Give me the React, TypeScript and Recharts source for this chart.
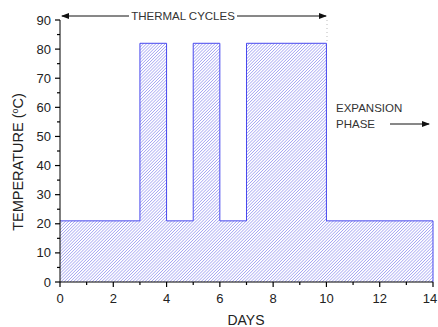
import { AreaChart, Area, XAxis, YAxis, ReferenceLine } from 'recharts';

const days = [0, 3, 4, 5, 6, 7, 10, 14];
const temps = [21, 82, 21, 82, 21, 82, 21, 21];
const xTicks = [0, 1, 2, 3, 4, 5, 6, 7, 8, 9, 10, 11, 12, 13, 14];
const yTicks = [0, 5, 10, 15, 20, 25, 30, 35, 40, 45, 50, 55, 60, 65, 70, 75, 80, 85, 90];

const data = days.map((d, i) => ({ day: d, temp: temps[i] }));
const lastDay = days[days.length - 1];
const lastTemp = temps[temps.length - 1];

const FONT = '"Liberation Sans", Arial, sans-serif';
const BLUE = '#4848ee';

function YTick({ y, payload }: any) {
  const v = payload.value;
  const major = v % 10 === 0;
  return (
    <g>
      <line x1={60 - (major ? 5 : 3)} x2={60} y1={y} y2={y} stroke="#000" strokeWidth={1.2} />
      {major && (
        <text x={51} y={y} dy={4.5} textAnchor="end" fontSize={13} fill="#222" fontFamily={FONT}>
          {v}
        </text>
      )}
    </g>
  );
}

function XTick({ x, payload }: any) {
  const v = payload.value;
  const major = v % 2 === 0;
  // keep the last label inside the picture
  const tx = Math.min(x, 430);
  return (
    <g>
      <line x1={x} x2={x} y1={282} y2={282 + (major ? 5 : 3)} stroke="#000" strokeWidth={1.2} />
      {major && (
        <text x={tx} y={303} textAnchor="middle" fontSize={13} fill="#222" fontFamily={FONT}>
          {v}
        </text>
      )}
    </g>
  );
}

export default function App() {
  return (
    <div style={{ position: 'absolute', left: 0, top: 0, width: 438, height: 327, background: '#fff' }}>
      <AreaChart width={438} height={327} data={data} margin={{ top: 20, right: 5, left: 0, bottom: 0 }}>
        <defs>
          <pattern id="hatch" patternUnits="userSpaceOnUse" width={2.2} height={2.2} patternTransform="rotate(45)">
            <line x1={0} y1={0} x2={0} y2={2.2} stroke="#6c6cea" strokeWidth={0.9} />
          </pattern>
        </defs>
        <XAxis
          dataKey="day"
          type="number"
          domain={[0, 14]}
          ticks={xTicks}
          interval={0}
          height={45}
          stroke="#000"
          tickLine={false}
          tick={<XTick />}
        />
        <YAxis
          type="number"
          domain={[0, 90]}
          ticks={yTicks}
          interval={0}
          width={60}
          stroke="#000"
          tickLine={false}
          tick={<YTick />}
        />
        <Area
          dataKey="temp"
          type="stepAfter"
          stroke={BLUE}
          strokeWidth={1}
          fill="url(#hatch)"
          fillOpacity={1}
          isAnimationActive={false}
          dot={false}
          activeDot={false}
        />
        <ReferenceLine
          segment={[{ x: lastDay, y: 0 }, { x: lastDay, y: lastTemp }]}
          stroke={BLUE}
          strokeWidth={1}
        />
      </AreaChart>
      <svg width={438} height={327} style={{ position: 'absolute', left: 0, top: 0, pointerEvents: 'none' }}>
        <defs>
          <marker id="arr" markerWidth={8} markerHeight={6} refX={7} refY={3} orient="auto">
            <path d="M0,0 L8,3 L0,6 Z" fill="#111" />
          </marker>
        </defs>
        <line x1={129} y1={16} x2={62} y2={16} stroke="#111" strokeWidth={1} markerEnd="url(#arr)" />
        <line x1={237} y1={16} x2={326} y2={16} stroke="#111" strokeWidth={1} markerEnd="url(#arr)" />
        <text x={183} y={20} textAnchor="middle" fontSize={11.5} fill="#333" fontFamily={FONT}>
          THERMAL CYCLES
        </text>
        <line x1={327} y1={20} x2={327} y2={42} stroke="#bbb" strokeWidth={1} strokeDasharray="1 3" />
        <text x={336} y={112} fontSize={11.5} fill="#333" fontFamily={FONT}>EXPANSION</text>
        <text x={336} y={128} fontSize={11.5} fill="#333" fontFamily={FONT}>PHASE</text>
        <line x1={390} y1={124} x2={429} y2={124} stroke="#111" strokeWidth={1} markerEnd="url(#arr)" />
        <text
          x={0}
          y={0}
          transform="translate(23,162) rotate(-90)"
          textAnchor="middle"
          fontSize={14.5}
          fill="#222"
          fontFamily={FONT}
        >
          TEMPERATURE (
          <tspan dy={-5} fontSize={9}>o</tspan>
          <tspan dy={5}>C)</tspan>
        </text>
        <text x={246} y={325} textAnchor="middle" fontSize={14} fill="#222" fontFamily={FONT}>
          DAYS
        </text>
      </svg>
    </div>
  );
}
